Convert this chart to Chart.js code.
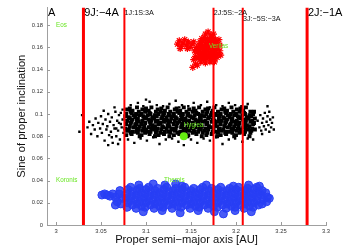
<!DOCTYPE html>
<html><head><meta charset="utf-8">
<script src="https://cdn.jsdelivr.net/npm/chart.js@4/dist/chart.umd.min.js"></script>
<style>html,body{margin:0;padding:0;background:#fff;}canvas{display:block;}</style>
</head><body>
<canvas id="c" width="346" height="248"></canvas>
<script>
// ---------- data ----------
const xTicks = [3, 3.05, 3.1, 3.15, 3.2, 3.25, 3.3];
const yTicks = [0, 0.02, 0.04, 0.06, 0.08, 0.1, 0.12, 0.14, 0.16, 0.18];
const xRange = [2.99, 3.3];
const yRange = [0, 0.196];

const resA = [3.0305, 3.076, 3.175, 3.2075, 3.279];
const resNames = ['9J:\u22124A', '1J:1S:3A', '2J:5S:\u22122A', '3J:\u22125S:\u22123A', '2J:\u22121A'];
const resLabelS = [0.1884, 0.1893, 0.1893, 0.1840, 0.1884];
const edgeLabel = 'A';
const edgeLabelA = 2.991;

const familyNames = ['Eos', 'Veritas', 'Hygiea', 'Koronis', 'Themis'];
const familyA = [3.000, 3.170, 3.142, 3.000, 3.120];
const familyS = [0.180, 0.161, 0.0895, 0.040, 0.040];

const hygieaPt = [[3.142, 0.080]];

// scattered background asteroids (left tail, outliers, right clump)
const blackSparse = [
[3.026,.084],[3.029,.099],[3.035,.088],[3.037,.093],[3.039,.082],[3.041,.090],[3.043,.086],[3.044,.096],[3.046,.080],[3.047,.092],
[3.049,.087],[3.050,.098],[3.051,.083],[3.052,.091],[3.054,.076],[3.055,.095],[3.056,.086],[3.057,.089],[3.058,.100],[3.059,.081],
[3.060,.093],[3.061,.084],[3.062,.097],[3.063,.074],[3.064,.090],[3.065,.087],[3.066,.102],[3.067,.080],[3.068,.094],[3.069,.085],
[3.070,.099],[3.071,.077],[3.072,.091],[3.073,.088],[3.074,.104],[3.075,.083],[3.074,.095],[3.072,.101],[3.069,.073],[3.065,.106],
[3.058,.072],[3.053,.103],[3.062,.079],[3.070,.092],[3.067,.087],
[3.083,.108],[3.091,.110],[3.097,.107],[3.104,.111],[3.112,.108],[3.119,.107],[3.126,.109],[3.133,.112],[3.140,.108],[3.147,.107],
[3.153,.110],[3.161,.108],[3.168,.111],[3.178,.108],[3.185,.107],[3.192,.110],[3.199,.108],[3.206,.107],[3.213,.109],[3.100,.113],
[3.137,.106],[3.171,.106],
[3.080,.077],[3.087,.074],[3.094,.078],[3.101,.076],[3.108,.079],[3.115,.073],[3.122,.077],[3.129,.078],[3.136,.075],[3.150,.077],
[3.157,.074],[3.164,.078],[3.171,.076],[3.178,.079],[3.185,.073],[3.192,.077],[3.199,.078],[3.207,.075],[3.213,.078],[3.219,.077],
[3.142,.072],
[3.224,.094],[3.226,.088],[3.227,.099],[3.228,.085],[3.229,.092],[3.230,.096],[3.231,.089],[3.232,.101],[3.233,.086],[3.234,.093],
[3.235,.098],[3.236,.090],[3.237,.084],[3.238,.095],[3.239,.088],[3.240,.092],[3.241,.097],[3.235,.107],[3.237,.102],[3.229,.082],
[3.242,.086]
];

// dense core of the background asteroids
const blackCore = [
[3.078,.081],[3.079,.085],[3.077,.087],[3.078,.091],[3.079,.094],[3.077,.098],[3.078,.100],[3.079,.104],
[3.083,.083],[3.081,.086],[3.082,.089],[3.083,.092],[3.082,.096],[3.081,.097],[3.083,.102],[3.082,.105],
[3.084,.082],[3.085,.084],[3.086,.088],[3.084,.093],[3.085,.095],[3.086,.099],[3.084,.101],[3.085,.103],
[3.089,.084],[3.090,.087],[3.088,.090],[3.089,.091],[3.090,.094],[3.088,.097],[3.089,.100],[3.090,.106],
[3.093,.080],[3.091,.083],[3.092,.086],[3.093,.089],[3.092,.093],[3.091,.096],[3.093,.099],[3.092,.102],
[3.095,.081],[3.096,.085],[3.097,.087],[3.095,.091],[3.096,.094],[3.097,.098],[3.095,.100],[3.096,.104],
[3.099,.083],[3.100,.086],[3.098,.089],[3.099,.092],[3.100,.096],[3.098,.097],[3.099,.102],[3.100,.105],
[3.104,.082],[3.102,.084],[3.103,.088],[3.104,.093],[3.103,.095],[3.102,.099],[3.104,.101],[3.103,.103],
[3.105,.084],[3.106,.087],[3.107,.090],[3.105,.091],[3.106,.094],[3.107,.097],[3.105,.100],[3.106,.106],
[3.110,.080],[3.111,.083],[3.109,.086],[3.110,.089],[3.111,.093],[3.109,.096],[3.110,.099],[3.111,.102],
[3.114,.081],[3.112,.085],[3.113,.087],[3.114,.091],[3.113,.094],[3.112,.098],[3.114,.100],[3.113,.104],
[3.116,.083],[3.117,.086],[3.118,.089],[3.116,.092],[3.117,.096],[3.118,.097],[3.116,.102],[3.117,.105],
[3.120,.082],[3.121,.084],[3.119,.088],[3.120,.093],[3.121,.095],[3.119,.099],[3.120,.101],[3.121,.103],
[3.125,.084],[3.123,.087],[3.124,.090],[3.125,.091],[3.124,.094],[3.123,.097],[3.125,.100],[3.124,.106],
[3.126,.080],[3.127,.083],[3.128,.086],[3.126,.089],[3.127,.093],[3.128,.096],[3.126,.099],[3.127,.102],
[3.131,.081],[3.132,.085],[3.130,.087],[3.131,.091],[3.132,.094],[3.130,.098],[3.131,.100],[3.132,.104],
[3.135,.083],[3.133,.086],[3.134,.089],[3.135,.092],[3.134,.096],[3.133,.097],[3.135,.102],[3.134,.105],
[3.137,.082],[3.138,.084],[3.139,.088],[3.137,.093],[3.138,.095],[3.139,.099],[3.137,.101],[3.138,.103],
[3.141,.084],[3.142,.087],[3.140,.090],[3.141,.091],[3.142,.094],[3.140,.097],[3.141,.100],[3.142,.106],
[3.146,.080],[3.144,.083],[3.145,.086],[3.146,.089],[3.145,.093],[3.144,.096],[3.146,.099],[3.145,.102],
[3.147,.081],[3.148,.085],[3.149,.087],[3.147,.091],[3.148,.094],[3.149,.098],[3.147,.100],[3.148,.104],
[3.152,.083],[3.153,.086],[3.151,.089],[3.152,.092],[3.153,.096],[3.151,.097],[3.152,.102],[3.153,.105],
[3.156,.082],[3.154,.084],[3.155,.088],[3.156,.093],[3.155,.095],[3.154,.099],[3.156,.101],[3.155,.103],
[3.158,.084],[3.159,.087],[3.160,.090],[3.158,.091],[3.159,.094],[3.160,.097],[3.158,.100],[3.159,.106],
[3.162,.080],[3.163,.083],[3.161,.086],[3.162,.089],[3.163,.093],[3.161,.096],[3.162,.099],[3.163,.102],
[3.167,.081],[3.165,.085],[3.166,.087],[3.167,.091],[3.166,.094],[3.165,.098],[3.167,.100],[3.166,.104],
[3.168,.083],[3.169,.086],[3.170,.089],[3.168,.092],[3.169,.096],[3.170,.097],[3.168,.102],[3.169,.105],
[3.173,.082],[3.174,.084],[3.172,.088],[3.173,.093],[3.174,.095],[3.172,.099],[3.173,.101],[3.174,.103],
[3.177,.084],[3.175,.087],[3.176,.090],[3.177,.091],[3.176,.094],[3.175,.097],[3.177,.100],[3.176,.106],
[3.179,.080],[3.180,.083],[3.181,.086],[3.179,.089],[3.180,.093],[3.181,.096],[3.179,.099],[3.180,.102],
[3.183,.081],[3.184,.085],[3.182,.087],[3.183,.091],[3.184,.094],[3.182,.098],[3.183,.100],[3.184,.104],
[3.188,.083],[3.186,.086],[3.187,.089],[3.188,.092],[3.187,.096],[3.186,.097],[3.188,.102],[3.187,.105],
[3.189,.082],[3.190,.084],[3.191,.088],[3.189,.093],[3.190,.095],[3.191,.099],[3.189,.101],[3.190,.103],
[3.194,.084],[3.195,.087],[3.193,.090],[3.194,.091],[3.195,.094],[3.193,.097],[3.194,.100],[3.195,.106],
[3.198,.080],[3.196,.083],[3.197,.086],[3.198,.089],[3.197,.093],[3.196,.096],[3.198,.099],[3.197,.102],
[3.200,.081],[3.201,.085],[3.202,.087],[3.200,.091],[3.201,.094],[3.202,.098],[3.200,.100],[3.201,.104],
[3.204,.083],[3.205,.086],[3.203,.089],[3.204,.092],[3.205,.096],[3.203,.097],[3.204,.102],[3.205,.105],
[3.209,.082],[3.207,.084],[3.208,.088],[3.209,.093],[3.208,.095],[3.207,.099],[3.209,.101],[3.208,.103],
[3.210,.084],[3.211,.087],[3.212,.090],[3.210,.091],[3.211,.094],[3.212,.097],[3.210,.100],[3.211,.106],
[3.215,.080],[3.216,.083],[3.214,.086],[3.215,.089],[3.216,.093],[3.214,.096],[3.215,.099],[3.216,.102],
[3.217,.085],[3.218,.087],[3.219,.091],[3.218,.094],[3.217,.098],[3.219,.100],
[3.221,.086],[3.220,.092],[3.221,.096],[3.220,.102]
];

const bluePts = [
[3.051,.027],[3.054,.028],[3.057,.027],[3.060,.026],[3.063,.028],[3.066,.025],[3.068,.021],[3.070,.028],[3.072,.019],[3.074,.024],
[3.071,.031],[3.066,.018],
[3.079,.016],[3.080,.020],[3.078,.024],[3.079,.028],[3.080,.032],
[3.085,.018],[3.083,.022],[3.084,.026],[3.085,.030],[3.083,.034],
[3.089,.015],[3.090,.019],[3.088,.023],[3.089,.027],[3.090,.031],
[3.095,.017],[3.093,.021],[3.094,.025],[3.095,.029],[3.093,.033],
[3.099,.016],[3.100,.020],[3.098,.024],[3.099,.028],[3.100,.032],
[3.105,.018],[3.103,.022],[3.104,.026],[3.105,.030],[3.103,.034],
[3.109,.015],[3.110,.019],[3.108,.023],[3.109,.027],[3.110,.031],
[3.115,.017],[3.113,.021],[3.114,.025],[3.115,.029],[3.113,.033],
[3.119,.016],[3.120,.020],[3.118,.024],[3.119,.028],[3.120,.032],
[3.125,.018],[3.123,.022],[3.124,.026],[3.125,.030],[3.123,.034],
[3.129,.015],[3.130,.019],[3.128,.023],[3.129,.027],[3.130,.031],
[3.135,.017],[3.133,.021],[3.134,.025],[3.135,.029],[3.133,.033],
[3.139,.016],[3.140,.020],[3.138,.024],[3.139,.028],[3.140,.032],
[3.145,.018],[3.143,.022],[3.144,.026],[3.145,.030],[3.143,.034],
[3.149,.015],[3.150,.019],[3.148,.023],[3.149,.027],[3.150,.031],
[3.155,.017],[3.153,.021],[3.154,.025],[3.155,.029],[3.153,.033],
[3.159,.016],[3.160,.020],[3.158,.024],[3.159,.028],[3.160,.032],
[3.165,.018],[3.163,.022],[3.164,.026],[3.165,.030],[3.163,.034],
[3.169,.015],[3.170,.019],[3.168,.023],[3.169,.027],[3.170,.031],
[3.175,.017],[3.173,.021],[3.174,.025],[3.175,.029],[3.173,.033],
[3.179,.016],[3.180,.020],[3.178,.024],[3.179,.028],[3.180,.032],
[3.185,.018],[3.183,.022],[3.184,.026],[3.185,.030],[3.183,.034],
[3.189,.015],[3.190,.019],[3.188,.023],[3.189,.027],[3.190,.031],
[3.195,.017],[3.193,.021],[3.194,.025],[3.195,.029],[3.193,.033],
[3.199,.016],[3.200,.020],[3.198,.024],[3.199,.028],[3.200,.032],
[3.205,.018],[3.203,.022],[3.204,.026],[3.205,.030],[3.203,.034],
[3.209,.015],[3.210,.019],[3.208,.023],[3.209,.027],[3.210,.031],
[3.215,.017],[3.213,.021],[3.214,.025],[3.215,.029],[3.213,.033],
[3.219,.016],[3.220,.020],[3.218,.024],[3.219,.028],[3.220,.032],
[3.225,.018],[3.223,.022],[3.224,.026],[3.225,.030],[3.223,.034],
[3.229,.019],[3.230,.023],[3.228,.027],[3.229,.031],
[3.234,.021],[3.235,.025],[3.233,.029],[3.237,.024],
[3.092,.036],[3.108,.037],[3.121,.036],[3.140,.035],[3.167,.036],[3.197,.035],[3.214,.036],[3.226,.035],[3.133,.037],
[3.097,.012],[3.118,.013],[3.138,.011],[3.158,.013],[3.176,.012],[3.199,.013],[3.217,.012],[3.186,.010]
];

const redPts = [
[3.158,.150],[3.161,.151],[3.164,.149],[3.167,.150],[3.170,.151],[3.173,.149],[3.176,.150],[3.179,.151],
[3.159,.153],[3.162,.154],[3.165,.152],[3.168,.153],[3.171,.154],[3.174,.152],[3.177,.153],[3.180,.154],
[3.157,.156],[3.160,.157],[3.163,.155],[3.166,.156],[3.169,.157],[3.172,.155],[3.175,.156],[3.178,.157],
[3.158,.159],[3.161,.160],[3.164,.158],[3.167,.159],[3.170,.160],[3.173,.158],[3.176,.159],[3.179,.160],
[3.159,.162],[3.162,.163],[3.165,.161],[3.168,.162],[3.171,.163],[3.174,.161],[3.177,.162],[3.180,.163],
[3.160,.165],[3.163,.166],[3.166,.164],[3.169,.165],[3.172,.166],[3.175,.164],[3.178,.165],
[3.162,.168],[3.165,.169],[3.168,.167],[3.171,.168],[3.174,.169],[3.177,.167],
[3.166,.172],[3.169,.174],[3.172,.171],[3.175,.172],
[3.182,.157],[3.182,.162],[3.181,.167],[3.183,.153],
[3.161,.147],[3.166,.146],[3.171,.147],[3.176,.147],
[3.155,.152],[3.154,.157],[3.153,.149],[3.155,.145],[3.152,.142],[3.157,.144],[3.156,.160],
[3.135,.163],[3.137,.166],[3.139,.161],[3.141,.164],[3.143,.167],[3.145,.162],[3.147,.165],[3.149,.160],
[3.151,.163],[3.146,.159],[3.138,.159],[3.153,.165]
];

// ---------- chart ----------
const FONT = '"Liberation Sans", Arial, Helvetica, sans-serif';
Chart.defaults.font.family = FONT;
const toXY = arr => arr.map(p => ({x: p[0], y: p[1]}));
const lineWidths = [3, 2, 2, 2, 3];

const lineSets = resA.map((a, i) => ({
  type: 'line',
  data: [{x: a, y: yRange[0]}, {x: a, y: yRange[1]}],
  borderColor: 'rgb(255,0,0)',
  borderWidth: lineWidths[i],
  pointRadius: 0,
  showLine: true,
  fill: false,
  order: 0
}));

const overlay = {
  id: 'overlay',
  afterDraw(chart) {
    const {ctx, chartArea: ca, scales: {x, y}} = chart;
    ctx.save();
    ctx.strokeStyle = '#9a9a9a';
    ctx.lineWidth = 1;
    ctx.beginPath();
    xTicks.forEach(v => {
      const px = Math.round(x.getPixelForValue(v)) + 0.5;
      ctx.moveTo(px, ca.bottom); ctx.lineTo(px, ca.bottom - 3);
    });
    yTicks.forEach(v => {
      const py = Math.round(y.getPixelForValue(v)) + 0.5;
      ctx.moveTo(ca.left, py); ctx.lineTo(ca.left + 3, py);
    });
    ctx.stroke();
    ctx.textAlign = 'left';
    ctx.textBaseline = 'alphabetic';
    ctx.fillStyle = '#000';
    ctx.font = '11px ' + FONT;
    ctx.fillText(edgeLabel, x.getPixelForValue(edgeLabelA), y.getPixelForValue(resLabelS[0]));
    resNames.forEach((t, i) => {
      const big = (i === 0 || i === 4);
      ctx.font = (big ? '11px ' : '7.2px ') + FONT;
      ctx.fillStyle = big ? '#000' : '#111';
      ctx.fillText(t, x.getPixelForValue(resA[i]) + (big ? 0.8 : 0.2), y.getPixelForValue(resLabelS[i]));
    });
    ctx.font = '6.3px ' + FONT;
    ctx.fillStyle = 'rgb(105,230,35)';
    ctx.textBaseline = 'middle';
    familyNames.forEach((t, i) => {
      ctx.fillText(t, x.getPixelForValue(familyA[i]), y.getPixelForValue(familyS[i]));
    });
    ctx.restore();
  }
};

new Chart(document.getElementById('c'), {
  type: 'scatter',
  data: {
    datasets: [
      ...lineSets,
      {
        data: toXY(hygieaPt), pointStyle: 'circle', pointRadius: 4,
        backgroundColor: 'rgb(102,238,17)', borderWidth: 0, order: 1
      },
      {
        data: toXY(redPts), pointStyle: 'star', pointRadius: 3.5,
        borderColor: 'rgb(255,0,0)', backgroundColor: 'rgb(255,0,0)', borderWidth: 1.2, order: 2
      },
      {
        data: toXY(blackCore), pointStyle: 'rect', pointRadius: 2.8,
        backgroundColor: '#000', borderWidth: 0, order: 3
      },
      {
        data: toXY(blackSparse), pointStyle: 'rect', pointRadius: 1.7,
        backgroundColor: '#000', borderWidth: 0, order: 3
      },
      {
        data: toXY(bluePts), pointStyle: 'circle', pointRadius: 4,
        borderColor: 'rgb(40,62,245)', backgroundColor: 'rgba(40,62,245,0.85)', borderWidth: 1, order: 4
      }
    ]
  },
  options: {
    responsive: false,
    animation: false,
    devicePixelRatio: 1,
    events: [],
    layout: {padding: {top: 4, right: 20, bottom: 0, left: 0}},
    plugins: {legend: {display: false}, tooltip: {enabled: false}},
    scales: {
      x: {
        type: 'linear', min: xRange[0], max: xRange[1],
        afterBuildTicks: s => { s.ticks = xTicks.map(v => ({value: v})); },
        afterFit: s => { s.height = 23; },
        grid: {display: false, drawTicks: false},
        border: {display: true, color: '#a0a0a0', width: 1},
        ticks: {font: {size: 5.8}, color: '#333', padding: 3, maxRotation: 0, autoSkip: false,
                callback: v => String(v)},
        title: {display: true, text: 'Proper semi\u2212major axis [AU]', font: {size: 11.2}, color: '#111',
                padding: {top: 0, bottom: 1}}
      },
      y: {
        type: 'linear', min: yRange[0], max: yRange[1],
        afterBuildTicks: s => { s.ticks = yTicks.map(v => ({value: v})); },
        afterFit: s => { s.width = 47; },
        grid: {display: false, drawTicks: false},
        border: {display: true, color: '#a0a0a0', width: 1},
        ticks: {font: {size: 5.8}, color: '#333', padding: 4, autoSkip: false,
                callback: v => String(v)},
        title: {display: true, text: 'Sine of proper inclination', font: {size: 11.2}, color: '#111',
                padding: {top: 15, bottom: 0}}
      }
    }
  },
  plugins: [overlay]
});
</script>
</body></html>
